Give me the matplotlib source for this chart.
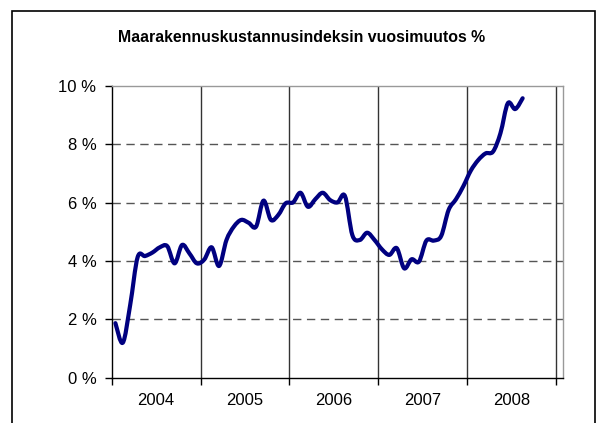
import matplotlib
matplotlib.use("Agg")
import matplotlib.pyplot as plt
from matplotlib.path import Path
from matplotlib.patches import PathPatch, Rectangle
import numpy as np

plt.rcParams['font.family'] = ['Liberation Sans', 'DejaVu Sans']

title = "Maarakennuskustannusindeksin vuosimuutos %"
years = ["2004", "2005", "2006", "2007", "2008"]
# monthly change %, Jan 2004 .. Aug 2008
values = [
    1.87, 1.20, 2.50, 4.13, 4.17, 4.29, 4.47, 4.51, 3.92, 4.55, 4.26, 3.92,
    4.05, 4.47, 3.83, 4.72, 5.18, 5.41, 5.31, 5.18, 6.07, 5.41, 5.58, 5.98,
    6.01, 6.34, 5.86, 6.12, 6.34, 6.09, 6.01, 6.23, 4.89, 4.72, 4.97, 4.72,
    4.40, 4.21, 4.44, 3.75, 4.06, 3.98, 4.70, 4.70, 4.86, 5.75, 6.12, 6.57,
    7.10, 7.46, 7.69, 7.75, 8.38, 9.41, 9.21, 9.58,
]


def smooth_path(x, y):
    # Excel-like smoothed line: cubic Bezier through every point
    pts = np.column_stack([x, y])
    n = len(pts)
    verts = [pts[0]]
    codes = [Path.MOVETO]
    for i in range(n - 1):
        p0 = pts[i - 1] if i > 0 else pts[i]
        p1 = pts[i]
        p2 = pts[i + 1]
        p3 = pts[i + 2] if i + 2 < n else pts[i + 1]
        c1 = p1 + (p2 - p0) / 6.0
        c2 = p2 - (p3 - p1) / 6.0
        verts += [c1, c2, p2]
        codes += [Path.CURVE4] * 3
    return Path(verts, codes)


fig = plt.figure(figsize=(6.03, 4.23), dpi=100)
ax = fig.add_axes([111.7 / 603, 1 - 377.7 / 423, (563 - 111.7) / 603, (377.7 - 86) / 423])

ax.set_xlim(0, 60.95)
ax.set_ylim(0, 10)

# grid
for yv in [2, 4, 6, 8]:
    ax.axhline(yv, color='#555555', lw=1.0, ls=(0, (6, 4)), zorder=1)
for k in range(1, len(years) + 1):
    ax.axvline(k * 12, color='#333333', lw=1.0, zorder=1)

xs = np.arange(len(values)) + 0.5
path = smooth_path(xs, np.array(values))
ax.add_patch(PathPatch(path, fill=False, edgecolor='#000080', lw=3.0,
                       capstyle='round', joinstyle='round', zorder=3))

ax.set_yticks(np.arange(0, 11, 2))
ax.set_yticklabels([f"{v} %" for v in range(0, 11, 2)], fontsize=12)
ax.set_xticks([k * 12 for k in range(len(years) + 1)])
ax.set_xticklabels([])
ax.set_xticks([k * 12 + 6 for k in range(len(years))], minor=True)
ax.set_xticklabels(years, minor=True, fontsize=12)
ax.tick_params(axis='x', which='minor', length=0, pad=11)
ax.tick_params(axis='x', which='major', length=5, width=1, color='black', direction='out')
ax.tick_params(axis='y', length=5, width=1, color='black', direction='out', pad=6)

for s in ['left', 'bottom']:
    ax.spines[s].set_color('black')
    ax.spines[s].set_linewidth(1.0)
for s in ['top', 'right']:
    ax.spines[s].set_color('#999999')
    ax.spines[s].set_linewidth(1.0)

fig.text(302 / 603, 1 - 37 / 423, title, ha='center', va='center',
         fontsize=11.4, fontweight='bold')

frame = Rectangle((12 / 603, -0.1), (595 - 12) / 603, 1.1 - 11 / 423,
                  transform=fig.transFigure, fill=False, edgecolor='black',
                  lw=1.2, zorder=0)
fig.patches.append(frame)

fig.savefig("out.png", dpi=100, facecolor='white')
